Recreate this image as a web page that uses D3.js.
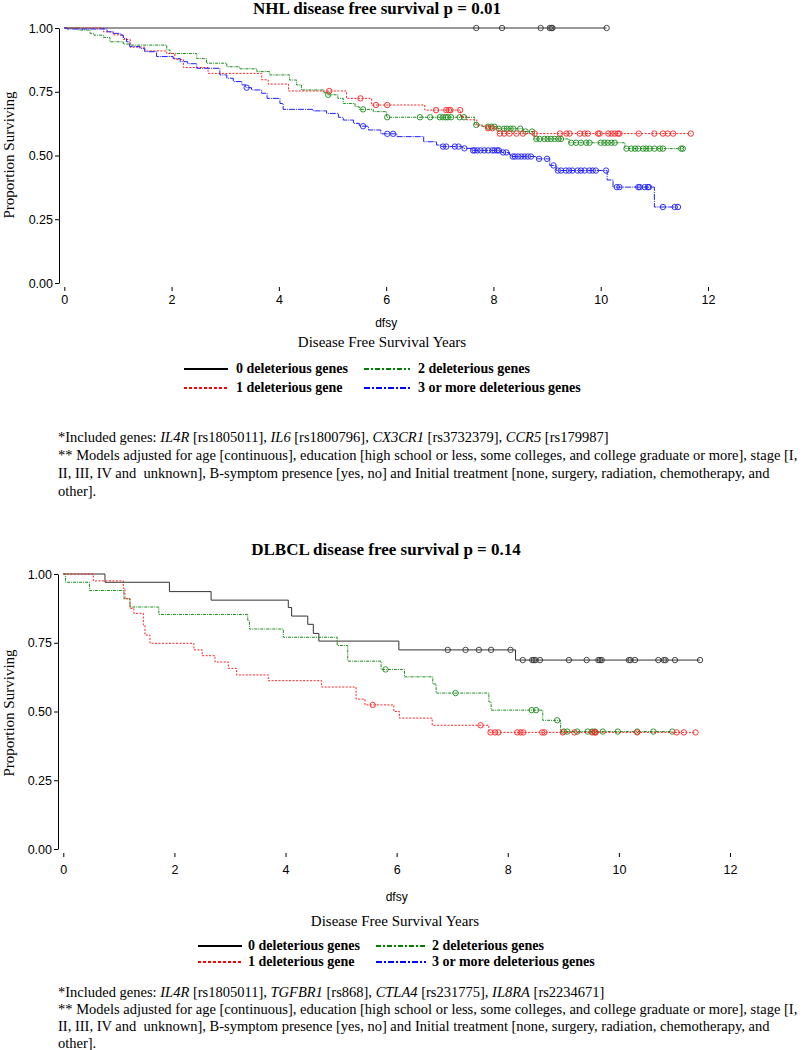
<!DOCTYPE html>
<html>
<head>
<meta charset="utf-8">
<title>Disease free survival</title>
<script src="https://cdn.jsdelivr.net/npm/d3@7"></script>
<style>
body { margin: 0; background: #fff; }
svg { display: block; }
.tick text { font-family: "Liberation Sans", Arial, sans-serif; font-size: 12.5px; fill: #000; }
.tick line, .domain { stroke: #000; }
.title { font-family: "Liberation Serif", "Times New Roman", serif; font-weight: bold; font-size: 17px; }
.serif { font-family: "Liberation Serif", "Times New Roman", serif; font-size: 15px; }
.sans { font-family: "Liberation Sans", Arial, sans-serif; font-size: 12px; }
.legend { font-family: "Liberation Serif", "Times New Roman", serif; font-weight: bold; font-size: 14px; }
.note { font-family: "Liberation Serif", "Times New Roman", serif; font-size: 14.5px; }
</style>
</head>
<body>
<script>
// ---- data (years, proportion surviving) ----
var xTicks = [0, 2, 4, 6, 8, 10, 12];
var yTicks = [0, 0.25, 0.5, 0.75, 1];
var groupNames = ["0 deleterious genes", "1 deleterious gene", "2 deleterious genes", "3 or more deleterious genes"];

// NHL
var nhl0Events = [];
var nhl0Censor = [7.68, 8.16, 8.88, 9.05, 9.08, 9.1, 10.11];
var nhl1Events = [[0.73,0.985],[0.91,0.973],[1.1,0.955],[1.23,0.925],[1.5,0.91],[1.91,0.9],[2.06,0.877],[2.22,0.845],
  [2.68,0.822],[3.68,0.797],[3.8,0.78],[4.18,0.753],[5.26,0.724],[5.73,0.698],[6.72,0.678],[7.39,0.652],[7.5,0.64],
  [7.69,0.616],[7.87,0.607],[8.09,0.586]];
var nhl1Censor = [4.94, 5.52, 5.81, 6.02, 6.93, 7.12, 7.17, 7.2, 7.38, 7.9, 7.98, 8.12, 8.2, 8.3, 8.43, 8.55, 8.77, 9.24,
  9.36, 9.42, 9.61, 9.7, 9.76, 9.95, 9.98, 10.14, 10.2, 10.26, 10.32, 10.35, 10.71, 11.0, 11.16, 11.25, 11.35, 11.68];
var nhl2Events = [[0.26,0.992],[0.48,0.979],[0.55,0.972],[0.73,0.963],[0.85,0.946],[1.1,0.937],[1.22,0.933],[1.91,0.914],
  [1.97,0.9],[2.47,0.88],[2.65,0.862],[3.03,0.848],[3.27,0.84],[3.59,0.829],[3.83,0.816],[4.2,0.796],[4.33,0.777],
  [4.42,0.757],[4.83,0.746],[4.9,0.738],[5.1,0.724],[5.2,0.704],[5.42,0.691],[5.5,0.681],[5.76,0.672],[6.01,0.65],
  [7.65,0.62],[7.8,0.613],[8.08,0.605],[8.55,0.594],[8.76,0.565],[9.41,0.55],[10.45,0.527]];
var nhl2Censor = [4.92, 5.57, 6.02, 6.63, 6.82, 7.0, 7.06, 7.11, 7.15, 7.21, 7.37, 7.45, 7.68, 7.9, 7.96, 8.02, 8.1, 8.2,
  8.25, 8.32, 8.37, 8.5, 8.6, 8.72, 8.8, 8.86, 8.95, 9.01, 9.07, 9.14, 9.21, 9.26, 9.45, 9.54, 9.63, 9.73, 9.79, 10.0,
  10.07, 10.13, 10.2, 10.26, 10.48, 10.57, 10.64, 10.7, 10.79, 10.85, 10.91, 11.0, 11.1, 11.16, 11.5, 11.53];
var nhl3Events = [[0.05,0.996],[0.8,0.985],[0.91,0.979],[1.04,0.972],[1.1,0.959],[1.16,0.946],[1.22,0.927],[1.41,0.92],
  [1.5,0.907],[1.72,0.888],[2.03,0.88],[2.16,0.868],[2.3,0.86],[2.47,0.842],[2.9,0.816],[3.03,0.803],[3.15,0.79],
  [3.31,0.777],[3.38,0.766],[3.49,0.757],[3.68,0.744],[3.78,0.724],[4.02,0.704],[4.08,0.681],[4.64,0.675],[4.89,0.665],
  [5.11,0.65],[5.2,0.639],[5.39,0.626],[5.5,0.615],[5.67,0.6],[5.9,0.585],[6.2,0.574],[6.7,0.554],[6.94,0.541],
  [7.03,0.535],[7.43,0.528],[7.6,0.52],[8.15,0.512],[8.3,0.503],[8.33,0.496],[8.8,0.487],[9.05,0.461],[9.17,0.441],
  [10.12,0.404],[10.23,0.376],[11.0,0.298]];
var nhl3Censor = [3.4, 5.57, 6.02, 6.13, 7.06, 7.12, 7.28, 7.35, 7.46, 7.62, 7.65, 7.7, 7.76, 7.83, 7.9, 7.98, 8.02, 8.07,
  8.1, 8.18, 8.24, 8.36, 8.4, 8.46, 8.52, 8.58, 8.64, 8.7, 8.85, 9.0, 9.12, 9.2, 9.26, 9.35, 9.41, 9.47, 9.57, 9.63, 9.7,
  9.79, 9.85, 9.91, 10.1, 10.3, 10.35, 10.7, 10.73, 10.82, 10.88, 10.9, 11.16, 11.38, 11.44];

// DLBCL
var dl0Events = [[0.75,0.97],[1.91,0.936],[2.66,0.905],[4.05,0.878],[4.11,0.847],[4.4,0.817],[4.5,0.784],[4.6,0.756],
  [6.04,0.724],[8.14,0.687]];
var dl0Censor = [6.92, 7.24, 7.48, 7.7, 8.05, 8.27, 8.44, 8.47, 8.5, 8.58, 9.1, 9.42, 9.63, 9.66, 9.69, 10.18, 10.21,
  10.29, 10.71, 10.81, 10.84, 11.01, 11.46];
var dl1Events = [[0.54,0.975],[1.08,0.948],[1.11,0.91],[1.2,0.875],[1.27,0.857],[1.44,0.815],[1.47,0.778],[1.56,0.748],
  [2.35,0.724],[2.5,0.703],[2.73,0.68],[2.97,0.657],[3.12,0.633],[3.69,0.612],[4.65,0.589],[5.27,0.545],[5.43,0.524],
  [5.95,0.5],[6.05,0.476],[6.64,0.45],[7.66,0.424]];
var dl1Censor = [5.57, 7.51, 7.69, 7.77, 7.83, 8.17, 8.23, 8.28, 8.62, 8.66, 8.99, 9.2, 9.52, 9.57, 9.58, 10.33, 11.04,
  11.17, 11.38];
var dl2Events = [[0.04,0.97],[0.47,0.94],[1.09,0.91],[1.2,0.88],[1.72,0.853],[3.32,0.83],[3.35,0.8],[3.96,0.77],
  [4.93,0.74],[5.12,0.683],[5.72,0.653],[6.14,0.626],[6.65,0.6],[6.71,0.567],[7.66,0.535],[7.7,0.505],[8.63,0.468],
  [8.95,0.427]];
var dl2Censor = [5.8, 7.06, 8.43, 8.51, 8.89, 9.01, 9.07, 9.25, 9.44, 9.52, 9.57, 9.71, 9.98, 10.33, 10.62, 10.96];

var nhlGenes = [["*Included genes: ", 0], ["IL4R", 1], [" [rs1805011], ", 0], ["IL6", 1], [" [rs1800796], ", 0],
  ["CX3CR1", 1], [" [rs3732379], ", 0], ["CCR5", 1], [" [rs179987]", 0]];
var dlGenes = [["*Included genes: ", 0], ["IL4R", 1], [" [rs1805011], ", 0], ["TGFBR1", 1], [" [rs868], ", 0],
  ["CTLA4", 1], [" [rs231775], ", 0], ["IL8RA", 1], [" [rs2234671]", 0]];
var modelNote = [
  "** Models adjusted for age [continuous], education [high school or less, some colleges, and college graduate or more], stage [I,",
  "II, III, IV and\u00a0 unknown], B-symptom presence [yes, no] and Initial treatment [none, surgery, radiation, chemotherapy, and",
  "other]."];

// ---- styles ----
var colors = ["#333333", "#ff2020", "#1a8a1a", "#1f1fff"];
var dashes = [null, "2,1.5", "3,1,1,1", "6,1,1,1"];
var legendDash = [null, "3,2", "5,2,2,2", "6,2,2,2"];
var legendColor = ["#000", "#ff0000", "#008000", "#0000ff"];

var svg = d3.select("body").append("svg").attr("width", 812).attr("height", 1050);

function survivalAt(events, t) {
  var s = 1;
  events.forEach(function(e) { if (e[0] <= t) s = e[1]; });
  return s;
}

function drawPanel(p) {
  var x = d3.scaleLinear().domain([0, 12]).range(p.xRange);
  var y = d3.scaleLinear().domain([0, 1]).range(p.yRange);
  var g = svg.append("g");

  g.append("text").attr("class", "title").attr("x", p.titleX).attr("y", p.titleY)
    .attr("text-anchor", "middle").text(p.title);

  // y axis
  g.append("g").attr("transform", "translate(" + p.axisX + ",0)")
    .call(d3.axisLeft(y).tickValues(yTicks).tickFormat(d3.format(".2f")).tickSize(4).tickSizeOuter(0).tickPadding(2));

  // x axis: ticks only
  var xa = g.append("g").attr("transform", "translate(0," + p.xTickY + ")")
    .call(d3.axisBottom(x).tickValues(xTicks).tickFormat(d3.format("d")).tickSize(4).tickPadding(p.xPad));
  xa.select(".domain").remove();

  g.append("text").attr("class", "serif").attr("transform", "translate(" + p.yLabX + "," + p.yLabY + ") rotate(-90)")
    .attr("text-anchor", "middle").text("Proportion Surviving");
  g.append("text").attr("class", "sans").attr("x", x(6)).attr("y", p.dfsyY).attr("text-anchor", "middle").text("dfsy");
  g.append("text").attr("class", "serif").attr("x", p.xLabX).attr("y", p.xLabY).attr("text-anchor", "middle")
    .text("Disease Free Survival Years");

  var line = d3.line().curve(d3.curveStepAfter).x(function(d) { return x(d[0]); }).y(function(d) { return y(d[1]); });

  p.series.forEach(function(s) {
    var last = s.events.length ? s.events[s.events.length - 1][1] : 1;
    var end = d3.max(s.censor.concat(s.events.map(function(e) { return e[0]; })));
    var pts = [[0, 1]].concat(s.events).concat([[end, last]]);
    g.append("path").attr("d", line(pts)).attr("fill", "none")
      .attr("stroke", colors[s.group]).attr("stroke-width", 1)
      .attr("stroke-dasharray", dashes[s.group]);
    g.selectAll(null).data(s.censor).enter().append("circle")
      .attr("cx", function(d) { return x(d); })
      .attr("cy", function(d) { return y(survivalAt(s.events, d)); })
      .attr("r", 2.7).attr("fill", "none").attr("stroke", colors[s.group]).attr("stroke-width", 0.9);
  });

  // legend
  p.legend.forEach(function(item) {
    var gi = item[0], lx = item[1], ly = item[2], w = item[3];
    g.append("line").attr("x1", lx).attr("x2", lx + w).attr("y1", ly - 4).attr("y2", ly - 4)
      .attr("stroke", legendColor[gi]).attr("stroke-width", 2).attr("stroke-dasharray", legendDash[gi]);
    g.append("text").attr("class", "legend").attr("x", lx + w + p.legendGap).attr("y", ly).text(groupNames[gi]);
  });

  // footnotes
  var t0 = g.append("text").attr("class", "note").attr("x", 58).attr("y", p.noteY);
  p.genes.forEach(function(seg) {
    t0.append("tspan").attr("font-style", seg[1] ? "italic" : null).text(seg[0]);
  });
  modelNote.forEach(function(line, i) {
    g.append("text").attr("class", "note").attr("x", 58).attr("y", p.noteY + p.noteStep * (i + 1)).text(line);
  });
}

drawPanel({
  title: "NHL disease free survival p = 0.01", titleX: 377, titleY: 14,
  xRange: [64.3, 708], yRange: [283, 28], axisX: 59, xTickY: 287, xPad: 4,
  yLabX: 14, yLabY: 155, dfsyY: 327, xLabX: 382, xLabY: 347,
  series: [
    {group: 0, events: nhl0Events, censor: nhl0Censor},
    {group: 2, events: nhl2Events, censor: nhl2Censor},
    {group: 1, events: nhl1Events, censor: nhl1Censor},
    {group: 3, events: nhl3Events, censor: nhl3Censor}
  ],
  legend: [[0, 184, 373, 44], [2, 364, 373, 46], [1, 184, 392, 44], [3, 364, 392, 46]], legendGap: 8,
  genes: nhlGenes, noteY: 442, noteStep: 18
});

drawPanel({
  title: "DLBCL disease free survival p = 0.14", titleX: 386, titleY: 555,
  xRange: [63.3, 730], yRange: [849, 574], axisX: 58, xTickY: 853, xPad: 8,
  yLabX: 14, yLabY: 713, dfsyY: 901, xLabX: 395, xLabY: 926,
  series: [
    {group: 0, events: dl0Events, censor: dl0Censor},
    {group: 2, events: dl2Events, censor: dl2Censor},
    {group: 1, events: dl1Events, censor: dl1Censor}
  ],
  legend: [[0, 198, 950, 44], [2, 376, 950, 50], [1, 198, 966, 44], [3, 376, 966, 50]], legendGap: 6,
  genes: dlGenes, noteY: 997, noteStep: 17
});
</script>
</body>
</html>
